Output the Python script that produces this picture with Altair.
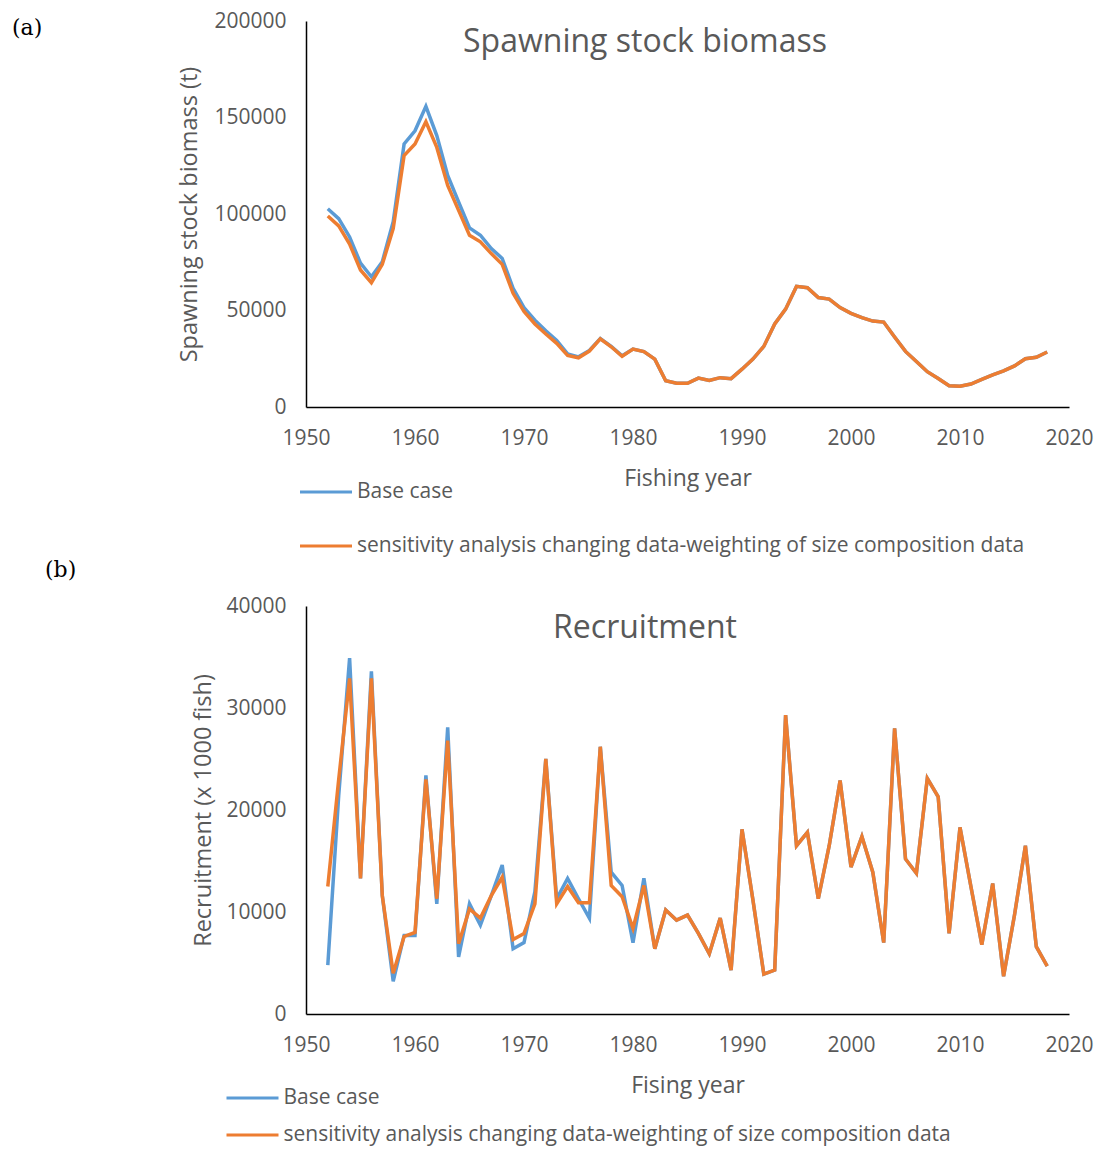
import altair as alt
import pandas as pd

years = list(range(1952, 2019))

ssb_base = [102700, 97600, 88100, 74500, 67500, 75300, 96000, 136300, 143100, 155800,
            140600, 120000, 106200, 92800, 89000, 82100, 77000, 61500, 51500, 45000,
            39500, 34500, 27500, 26000, 29300, 35500, 31400, 26500, 30000, 28700,
            24800, 13600, 12300, 12300, 15000, 13700, 15200, 14700, 19600, 24800,
            31400, 43000, 50700, 62500, 61800, 56700, 55900, 51500, 48500, 46300,
            44500, 44000, 36300, 28800, 23600, 18300, 14800, 11000, 10800, 11900,
            14300, 16600, 18700, 21300, 25000, 25800, 28500]
ssb_sens = [99000, 93800, 84400, 71000, 64400, 73900, 92400, 130300, 136300, 147800,
            134500, 114800, 101900, 89000, 85600, 79500, 73900, 58900, 49500, 43000,
            37800, 33000, 26700, 25500, 29000, 35300, 31200, 26300, 30000, 28700,
            24800, 13600, 12300, 12300, 15000, 13700, 15200, 14700, 19600, 24800,
            31400, 43000, 50700, 62500, 61800, 56700, 55900, 51500, 48500, 46300,
            44500, 44000, 36300, 28800, 23600, 18300, 14800, 11000, 10800, 11900,
            14300, 16600, 18700, 21300, 25000, 25800, 28500]
rec_base = [4800, 21400, 34900, 13300, 33600, 11600, 3200, 7700, 7700, 23400,
            10800, 28100, 5600, 10800, 8700, 11600, 14600, 6400, 7000, 12000,
            25000, 11300, 13300, 11300, 9400, 26200, 13900, 12600, 7000, 13300,
            6400, 10200, 9200, 9700, 7900, 5900, 9400, 4300, 18100, 11200,
            3900, 4300, 29300, 16500, 17800, 11300, 16500, 22900, 14400, 17400,
            13900, 7000, 28000, 15200, 13800, 23100, 21300, 7900, 18300, 12500,
            6800, 12800, 3700, 9700, 16500, 6600, 4700]
rec_sens = [12500, 23000, 32900, 13300, 32900, 11600, 4000, 7600, 8000, 23000,
            11300, 26800, 6900, 10300, 9400, 11600, 13400, 7300, 7900, 10800,
            25000, 10800, 12500, 10900, 10900, 26200, 12600, 11500, 8400, 12600,
            6400, 10200, 9200, 9700, 7900, 5900, 9400, 4300, 18100, 11200,
            3900, 4300, 29300, 16500, 17800, 11300, 16500, 22900, 14400, 17400,
            13900, 7000, 28000, 15200, 13800, 23100, 21300, 7900, 18300, 12500,
            6800, 12800, 3700, 9700, 16500, 6600, 4700]

series_names = ["Base case",
                "sensitivity analysis changing data-weighting of size composition data"]
series_colors = ["#5B9BD5", "#ED7D31"]
x_ticks = [1950, 1960, 1970, 1980, 1990, 2000, 2010, 2020]
ssb_ticks = [0, 50000, 100000, 150000, 200000]
rec_ticks = [0, 10000, 20000, 30000, 40000]

FONT = "Open Sans"
GRAY = "#595959"


def panel(base, sens, ymax, yticks, ytitle, ytitle_pad, xtitle, title, title_xy,
          tag, tag_xy, width, height, legend_xy, row_pad):
    df = pd.DataFrame({
        "year": years + years,
        "value": base + sens,
        "series": [series_names[0]] * len(years) + [series_names[1]] * len(years),
    })
    color = alt.Color(
        "series:N",
        scale=alt.Scale(domain=series_names, range=series_colors),
        legend=alt.Legend(
            title=None, orient="none", legendX=legend_xy[0], legendY=legend_xy[1],
            direction="vertical", symbolType="M-4,0H4", symbolSize=169,
            symbolStrokeWidth=3, labelFont=FONT, labelFontSize=21,
            labelColor=GRAY, labelLimit=900, labelOffset=20.5, rowPadding=row_pad,
            padding=0),
    )
    x = alt.X("year:Q",
              scale=alt.Scale(domain=[1950, 2020], nice=False, zero=False),
              axis=alt.Axis(values=x_ticks, format="d", title=xtitle,
                            labelPadding=20.5, titlePadding=19, titleFontSize=23,
                            labelFlush=False))
    y = alt.Y("value:Q",
              scale=alt.Scale(domain=[0, ymax], nice=False),
              axis=alt.Axis(values=yticks, format="d", title=ytitle,
                            labelPadding=20, titlePadding=ytitle_pad,
                            titleFontSize=23.5, labelFlush=False))
    l1 = (alt.Chart(df).transform_filter(alt.datum.series == series_names[0])
          .mark_line(strokeWidth=3.5).encode(x=x, y=y, color=color))
    l2 = (alt.Chart(df).transform_filter(alt.datum.series == series_names[1])
          .mark_line(strokeWidth=3.5).encode(x=x, y=y, color=color))
    ttl = (alt.Chart(pd.DataFrame({"t": [title]}))
           .mark_text(font=FONT, fontSize=32, color=GRAY, align="center",
                      baseline="middle")
           .encode(text="t:N", x=alt.value(title_xy[0]), y=alt.value(title_xy[1])))
    tg = (alt.Chart(pd.DataFrame({"t": [tag]}))
          .mark_text(font="DejaVu Serif", fontSize=22, color="black", align="left",
                     baseline="middle")
          .encode(text="t:N", x=alt.value(tag_xy[0]), y=alt.value(tag_xy[1])))
    return alt.layer(l1, l2, ttl, tg).properties(width=width, height=height)


top = panel(ssb_base, ssb_sens, 200000, ssb_ticks, "Spawning stock biomass (t)", 12,
            "Fishing year", "Spawning stock biomass", (339, 21), "(a)", (-294, 7),
            763, 386, (9.5, 460.5), 32)
bottom = panel(rec_base, rec_sens, 40000, rec_ticks, "Recruitment (x 1000 fish)", 10,
               "Fising year", "Recruitment", (339, 22), "(b)", (-261, -36),
               763, 408, (-64, 481.5), 15)

chart = (alt.vconcat(top, bottom, spacing=199, bounds="flush")
         .resolve_legend(color="independent")
         .properties(padding={"left": 4, "top": 2, "right": 0, "bottom": 0})
         .configure_view(stroke=None)
         .configure_axis(domainColor="black", domainWidth=1.5, ticks=False,
                         tickSize=0, grid=False, labelFont=FONT, labelFontSize=21,
                         labelColor=GRAY, titleFont=FONT, titleFontWeight="normal",
                         titleColor=GRAY))

chart.save("out.html", embed_options={"renderer": "svg", "actions": False})
